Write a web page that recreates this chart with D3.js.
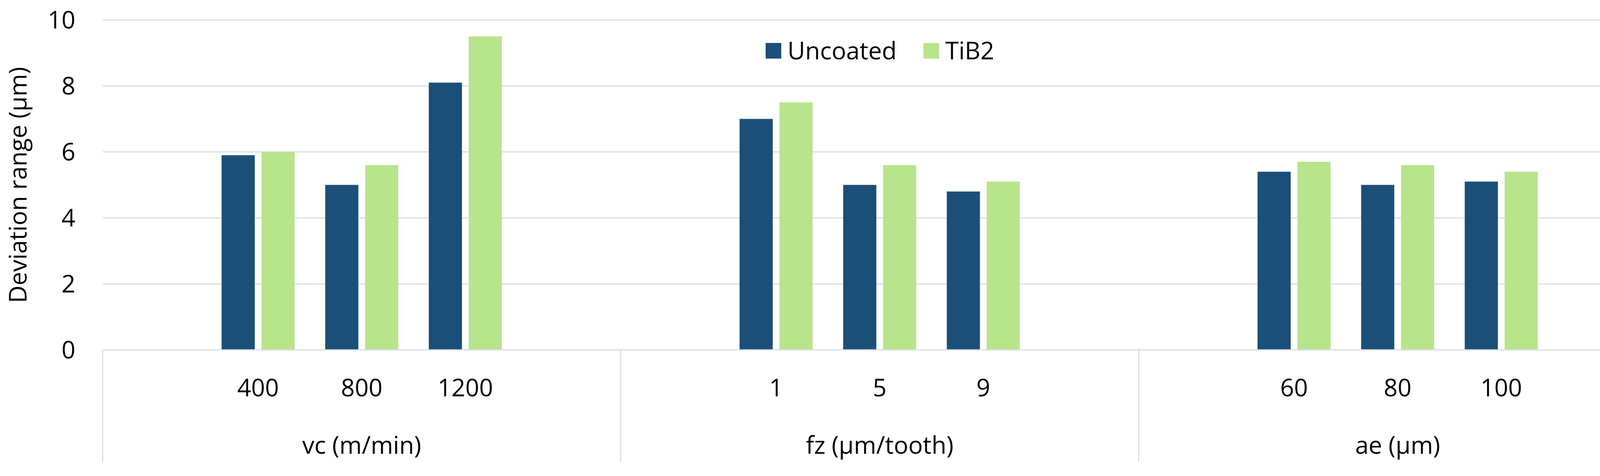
<!DOCTYPE html><html><head><meta charset="utf-8"><script src="https://cdn.jsdelivr.net/npm/d3@7"></script>
<style>body{margin:0;background:#fff}text{font-family:"Open Sans",sans-serif;fill:#000}</style></head><body>
<svg id="c" width="4255" height="1219"></svg>
<script>
const groups=["vc (m/min)","fz (µm/tooth)","ae (µm)"];
const categories=[["400","800","1200"],["1","5","9"],["60","80","100"]];
const uncoated=[[5.9,5.0,8.1],[7.0,5.0,4.8],[5.4,5.0,5.1]];
const tib2=[[6.0,5.6,9.5],[7.5,5.6,5.1],[5.7,5.6,5.4]];
const series=["Uncoated","TiB2"];
const yTicks=[0,2,4,6,8,10];
const colors=["#1b4f78","#b8e48c"];
const svg=d3.select("#c");
const L=263,R=4241,T=51,B=896,Bot=1183;
const FS=62;
const y=d3.scaleLinear().domain([0,10]).range([B,T]);
const slots=[];groups.forEach((g,gi)=>{slots.push("p"+gi+"a");categories[gi].forEach((c,ci)=>slots.push(gi+"-"+ci));slots.push("p"+gi+"b");});
const x=d3.scaleBand().domain(slots).range([L,R]);
const gx=d3.scaleBand().domain(groups).range([L,R]);
const grid="#d9dee6";
svg.append("g").selectAll("line").data(yTicks.slice(1)).join("line").attr("x1",L).attr("x2",R).attr("y1",d=>y(d)).attr("y2",d=>y(d)).attr("stroke",grid).attr("stroke-width",3);
svg.append("g").selectAll("text").data(yTicks).join("text").attr("x",L-70).attr("y",d=>y(d)).attr("dy","0.35em").attr("text-anchor","end").attr("font-size",FS).text(d=>d);
svg.append("text").attr("transform",`translate(46,${(T+B)/2}) rotate(-90)`).attr("text-anchor","middle").attr("dy","0.35em").attr("font-size",FS).text("Deviation range (µm)");
const bw=x.bandwidth()*0.32,gap=x.bandwidth()*0.065;
groups.forEach((g,gi)=>categories[gi].forEach((c,ci)=>{
 const cx=x(gi+"-"+ci)+x.bandwidth()/2;
 [uncoated,tib2].forEach((s,si)=>{const v=s[gi][ci];
  svg.append("rect").attr("x",si==0?cx-gap/2-bw:cx+gap/2).attr("width",bw).attr("y",y(v)).attr("height",y(0)-y(v)).attr("fill",colors[si]);});
 svg.append("text").attr("x",cx).attr("y",993).attr("dy","0.35em").attr("text-anchor","middle").attr("font-size",FS).text(c);
}));
svg.append("line").attr("x1",L).attr("x2",R).attr("y1",B).attr("y2",B).attr("stroke",grid).attr("stroke-width",3);
[L,gx(groups[1]),gx(groups[2]),R].forEach(v=>svg.append("line").attr("x1",v).attr("x2",v).attr("y1",B).attr("y2",Bot).attr("stroke",grid).attr("stroke-width",3));
groups.forEach(g=>svg.append("text").attr("x",gx(g)+gx.bandwidth()/2).attr("y",1140).attr("dy","0.35em").attr("text-anchor","middle").attr("font-size",FS).text(g));
const lx=[1960,2364];
series.forEach((s,i)=>{svg.append("rect").attr("x",lx[i]).attr("y",110).attr("width",40).attr("height",40).attr("fill",colors[i]);
 svg.append("text").attr("x",lx[i]+56).attr("y",130).attr("dy","0.35em").attr("font-size",FS).text(s);});
</script></body></html>
